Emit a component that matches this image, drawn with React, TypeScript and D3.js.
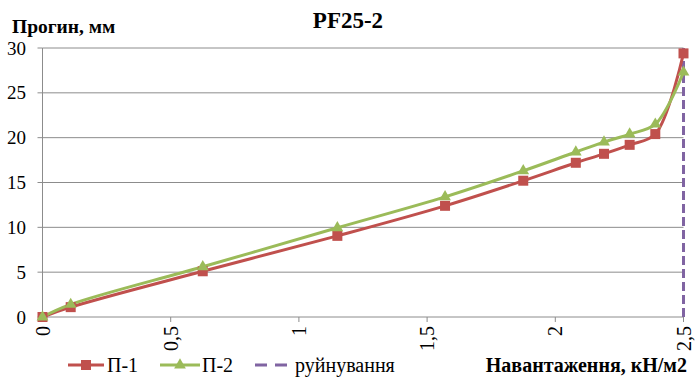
import React from "react";
import * as d3 from "d3";

const loads = [0, 0.11, 0.625, 1.15, 1.57, 1.875, 2.08, 2.19, 2.29, 2.39, 2.5];
const p1 = [0, 1.1, 5.1, 9.05, 12.4, 15.2, 17.2, 18.2, 19.2, 20.4, 29.4];
const p2 = [0, 1.4, 5.6, 9.95, 13.4, 16.3, 18.4, 19.5, 20.4, 21.5, 27.3];
const failureX = [2.5, 2.5];
const failureY = [0, 30];
const xTicks = [0, 0.5, 1, 1.5, 2, 2.5];
const yTicks = [0, 5, 10, 15, 20, 25, 30];
const seriesNames = ["П-1", "П-2", "руйнування"];

const RED = "#C0504D";
const GREEN = "#9BBB59";
const PURPLE = "#8064A2";
const GRID = "#8c8c8c";
const FONT = "'Liberation Serif', 'Times New Roman', serif";

export default function App() {
  const W = 700, H = 380;
  const x = d3.scaleLinear().domain([0, 2.5]).range([42.5, 683.5]);
  const y = d3.scaleLinear().domain([0, 30]).range([317, 48]);
  const line = d3
    .line<number>()
    .x((_, i) => x(loads[i]))
    .y((v) => y(v))
    .curve(d3.curveCatmullRom.alpha(0.5));
  const fmt = (v: number) => String(v).replace(".", ",");
  const tri = d3.symbol().type(d3.symbolTriangle).size(60)() as string;

  return (
    <svg width={W} height={H} style={{ position: "absolute", left: 0, top: 0, background: "#fff" }} fontFamily={FONT}>
      {/* title */}
      <text x={348} y={28} textAnchor="middle" fontSize={23} fontWeight="bold">PF25-2</text>
      <text x={12} y={33} fontSize={19.5} fontWeight="bold">Прогин, мм</text>

      {/* grid */}
      {yTicks.map((t) => (
        <g key={"y" + t}>
          {t > 0 && <line x1={x(0)} x2={x(2.5)} y1={y(t)} y2={y(t)} stroke={GRID} strokeWidth={1} />}
          <line x1={x(0) - 5} x2={x(0)} y1={y(t)} y2={y(t)} stroke={GRID} strokeWidth={1} />
          <text x={26} y={y(t)} dy="0.35em" textAnchor="end" fontSize={19}>{t}</text>
        </g>
      ))}
      {/* axes */}
      <line x1={x(0)} x2={x(0)} y1={y(30)} y2={y(0)} stroke={GRID} strokeWidth={1} />
      <line x1={x(0)} x2={x(2.5)} y1={y(0)} y2={y(0)} stroke={GRID} strokeWidth={1} />
      {xTicks.map((t) => (
        <g key={"x" + t}>
          <line x1={x(t)} x2={x(t)} y1={y(0)} y2={y(0) + 5} stroke={GRID} strokeWidth={1} />
          <text
            transform={`translate(${x(t)},${y(0) + 9}) rotate(-90)`}
            dy="0.35em"
            textAnchor="end"
            fontSize={20}
          >
            {fmt(t)}
          </text>
        </g>
      ))}

      {/* failure line */}
      <line
        x1={x(failureX[0])}
        x2={x(failureX[1])}
        y1={y(failureY[0])}
        y2={y(failureY[1])}
        stroke={PURPLE}
        strokeWidth={3}
        strokeDasharray="9,4"
      />

      {/* series */}
      <path d={line(p1) || ""} fill="none" stroke={RED} strokeWidth={3} />
      <path d={line(p2) || ""} fill="none" stroke={GREEN} strokeWidth={3} />
      {p1.map((v, i) => (
        <rect key={"r" + i} x={x(loads[i]) - 5} y={y(v) - 5} width={10} height={10} fill={RED} />
      ))}
      {p2.map((v, i) => (
        <path key={"t" + i} d={tri} transform={`translate(${x(loads[i])},${y(v)})`} fill={GREEN} />
      ))}

      {/* legend */}
      <line x1={68} x2={104} y1={365} y2={365} stroke={RED} strokeWidth={3} />
      <rect x={81} y={360} width={10} height={10} fill={RED} />
      <text x={107} y={372} fontSize={20}>{seriesNames[0]}</text>
      <line x1={160} x2={200} y1={365} y2={365} stroke={GREEN} strokeWidth={3} />
      <path d={tri} transform="translate(180,365)" fill={GREEN} />
      <text x={202} y={372} fontSize={20}>{seriesNames[1]}</text>
      <line x1={255} x2={287} y1={365} y2={365} stroke={PURPLE} strokeWidth={3} strokeDasharray="12,8" />
      <text x={295} y={372} fontSize={20}>{seriesNames[2]}</text>

      <text x={687} y={372} textAnchor="end" fontSize={20} fontWeight="bold">Навантаження, кН/м2</text>
    </svg>
  );
}
